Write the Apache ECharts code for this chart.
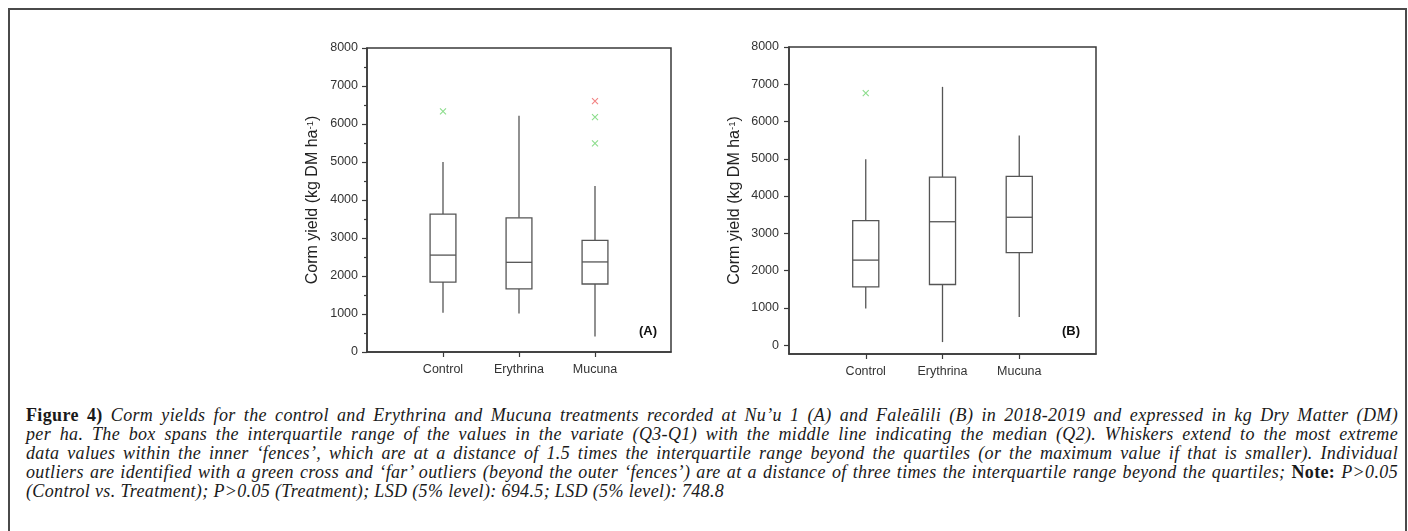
<!DOCTYPE html>
<html>
<head>
<meta charset="utf-8">
<title>Figure 4 - Corm yields</title>
<script src="https://cdn.jsdelivr.net/npm/echarts@6/dist/echarts.min.js"></script>
<style>
    html, body { margin: 0; padding: 0; background: #fff; }
    body { width: 1408px; height: 531px; position: relative; overflow: hidden; }
    #frame { position: absolute; left: 8px; top: 8px; width: 1399px; height: 600px; border: 2px solid #4a4a4a; box-sizing: border-box; }
    #chart { position: absolute; left: 0; top: 0; width: 1408px; height: 395px; }
    #caption { position: absolute; left: 26px; top: 406px; width: 1372px; font-family: "Liberation Serif", serif; font-size: 18px; letter-spacing: 0.35px; line-height: 19px; color: #1a1a1a; }
    #caption div { white-space: nowrap; text-align: justify; text-align-last: justify; font-style: italic; }
    #caption div.last { text-align: left; text-align-last: left; }
    #caption b { font-style: normal; }
</style>
</head>
<body>
<div id="frame"></div>
<div id="chart"></div>
<div id="caption">
    <div><b>Figure 4)</b> Corm yields for the control and Erythrina and Mucuna treatments recorded at Nu’u 1 (A) and Faleālili (B) in 2018-2019 and expressed in kg Dry Matter (DM)</div>
    <div>per ha. The box spans the interquartile range of the values in the variate (Q3-Q1) with the middle line indicating the median (Q2). Whiskers extend to the most extreme</div>
    <div>data values within the inner ‘fences’, which are at a distance of 1.5 times the interquartile range beyond the quartiles (or the maximum value if that is smaller). Individual</div>
    <div>outliers are identified with a green cross and ‘far’ outliers (beyond the outer ‘fences’) are at a distance of three times the interquartile range beyond the quartiles; <b>Note:</b> P&gt;0.05</div>
    <div class="last">(Control vs. Treatment); P&gt;0.05 (Treatment); LSD (5% level): 694.5; LSD (5% level): 748.8</div>
</div>
<script>
    var categories = ['Control', 'Erythrina', 'Mucuna'];
    var yTicks = [0, 1000, 2000, 3000, 4000, 5000, 6000, 7000, 8000];

    // each row: [low whisker, Q1, median, Q3, high whisker]
    var boxesA = [
        [1030, 1840, 2550, 3630, 5000],
        [1010, 1660, 2360, 3530, 6220],
        [410, 1790, 2370, 2940, 4370]
    ];
    // [category index, value]
    var outliersA = [[0, 6330], [2, 6180], [2, 5490]];
    var farOutliersA = [[2, 6600]];

    var boxesB = [
        [980, 1560, 2280, 3340, 4990],
        [80, 1625, 3310, 4510, 6930],
        [750, 2480, 3430, 4530, 5625]
    ];
    var outliersB = [[0, 6760]];
    var farOutliersB = [];

    var axisColor = '#3a3a3a';
    var boxColor = '#555';
    var crossPath = 'path://M0,0L10,10M10,0L0,10';
    // empty slots either side so the three boxes sit at 1/4, 2/4, 3/4 of the frame
    var axisCats = [''].concat(categories, ['']);

    var boxData = function (rows) {
        return rows.map(function (r, i) {
            return [i + 1].concat(r);
        });
    };
    var pointData = function (rows) {
        return rows.map(function (r) {
            return [r[0] + 1, r[1]];
        });
    };

    var renderBox = function (params, api) {
        var x = api.value(0);
        var lo = api.coord([x, api.value(1)]);
        var q1 = api.coord([x, api.value(2)]);
        var md = api.coord([x, api.value(3)]);
        var q3 = api.coord([x, api.value(4)]);
        var hi = api.coord([x, api.value(5)]);
        var half = api.size([1, 0])[0] * 0.17;
        var st = {stroke: boxColor, lineWidth: 1.3, fill: null};
        return {
            type: 'group',
            children: [
                {type: 'line', shape: {x1: lo[0], y1: lo[1], x2: q1[0], y2: q1[1]}, style: st},
                {type: 'line', shape: {x1: q3[0], y1: q3[1], x2: hi[0], y2: hi[1]}, style: st},
                {type: 'rect', shape: {x: q3[0] - half, y: q3[1], width: half * 2, height: q1[1] - q3[1]},
                    style: {stroke: boxColor, lineWidth: 1.3, fill: '#fff'}},
                {type: 'line', shape: {x1: md[0] - half, y1: md[1], x2: md[0] + half, y2: md[1]}, style: st}
            ]
        };
    };

    var xAxisOf = function (gridIndex) {
        return {
            type: 'category',
            gridIndex: gridIndex,
            data: axisCats,
            boundaryGap: false,
            axisLine: {onZero: false, lineStyle: {color: axisColor, width: 1.5}},
            axisTick: {
                length: 5,
                lineStyle: {color: axisColor, width: 1.2},
                interval: function (index, value) { return value !== ''; }
            },
            axisLabel: {interval: 0, margin: 11, fontSize: 12.5, color: '#333', fontFamily: 'Liberation Sans'},
            splitLine: {show: false}
        };
    };

    var plainNum = function (v) { return String(v); };

    var yName = '{a|Corm yield (kg DM ha}{s|-1}{a|)}';
    var yNameStyle = {
        color: '#222',
        fontFamily: 'Liberation Sans',
        rich: {
            a: {fontSize: 16, fontFamily: 'Liberation Sans', color: '#222'},
            s: {fontSize: 9.5, fontFamily: 'Liberation Sans', color: '#222', verticalAlign: 'top', padding: [0, 0, 6, 0]}
        }
    };

    var seriesOf = function (idx, boxes, near, far) {
        return [{
            type: 'custom',
            xAxisIndex: idx,
            yAxisIndex: idx,
            renderItem: renderBox,
            encode: {x: 0, y: [1, 2, 3, 4, 5]},
            data: boxData(boxes),
            silent: true
        }, {
            type: 'scatter',
            xAxisIndex: idx,
            yAxisIndex: idx,
            symbol: crossPath,
            symbolSize: 6,
            itemStyle: {color: 'rgba(0,0,0,0)', borderColor: '#6fd46f', borderWidth: 1.1},
            data: pointData(near),
            silent: true
        }, {
            type: 'scatter',
            xAxisIndex: idx,
            yAxisIndex: idx,
            symbol: crossPath,
            symbolSize: 6,
            itemStyle: {color: 'rgba(0,0,0,0)', borderColor: '#ef6464', borderWidth: 1.1},
            data: pointData(far),
            silent: true
        }];
    };

    var chart = echarts.init(document.getElementById('chart'), null, {renderer: 'canvas'});
    var option = {
        animation: false,
        grid: [
            {left: 367, top: 48, width: 304, height: 304, show: true, borderColor: axisColor, borderWidth: 1.5, backgroundColor: 'transparent'},
            {left: 789, top: 47, width: 307, height: 307, show: true, borderColor: axisColor, borderWidth: 1.5, backgroundColor: 'transparent'}
        ],
        xAxis: [xAxisOf(0), xAxisOf(1)],
        yAxis: [{
            type: 'value',
            gridIndex: 0,
            min: 0,
            max: 8000,
            interval: 1000,
            name: yName,
            nameLocation: 'middle',
            nameGap: 46,
            nameTextStyle: yNameStyle,
            axisLine: {show: true, lineStyle: {color: axisColor, width: 1.5}},
            axisTick: {show: true, length: 5, lineStyle: {color: axisColor, width: 1.2}},
            minorTick: {show: true, splitNumber: 2, length: 3, lineStyle: {color: axisColor, width: 1.2}},
            axisLabel: {margin: 9, fontSize: 12.5, color: '#333', fontFamily: 'Liberation Sans', formatter: plainNum},
            splitLine: {show: false}
        }, {
            type: 'value',
            gridIndex: 1,
            min: -240,
            max: 8000,
            name: yName,
            nameLocation: 'middle',
            nameGap: 46,
            nameTextStyle: yNameStyle,
            axisLine: {show: true, lineStyle: {color: axisColor, width: 1.5}},
            axisTick: {show: true, length: 5, customValues: yTicks, lineStyle: {color: axisColor, width: 1.2}},
            axisLabel: {margin: 10, fontSize: 12.5, color: '#333', fontFamily: 'Liberation Sans', customValues: yTicks, formatter: plainNum},
            splitLine: {show: false}
        }],
        graphic: [
            {type: 'text', left: 639, top: 325, style: {text: '(A)', font: 'bold 13px "Liberation Sans"', fill: '#111'}},
            {type: 'text', left: 1062, top: 325, style: {text: '(B)', font: 'bold 13px "Liberation Sans"', fill: '#111'}}
        ],
        series: seriesOf(0, boxesA, outliersA, farOutliersA).concat(seriesOf(1, boxesB, outliersB, farOutliersB))
    };
    chart.setOption(option);
</script>
</body>
</html>
